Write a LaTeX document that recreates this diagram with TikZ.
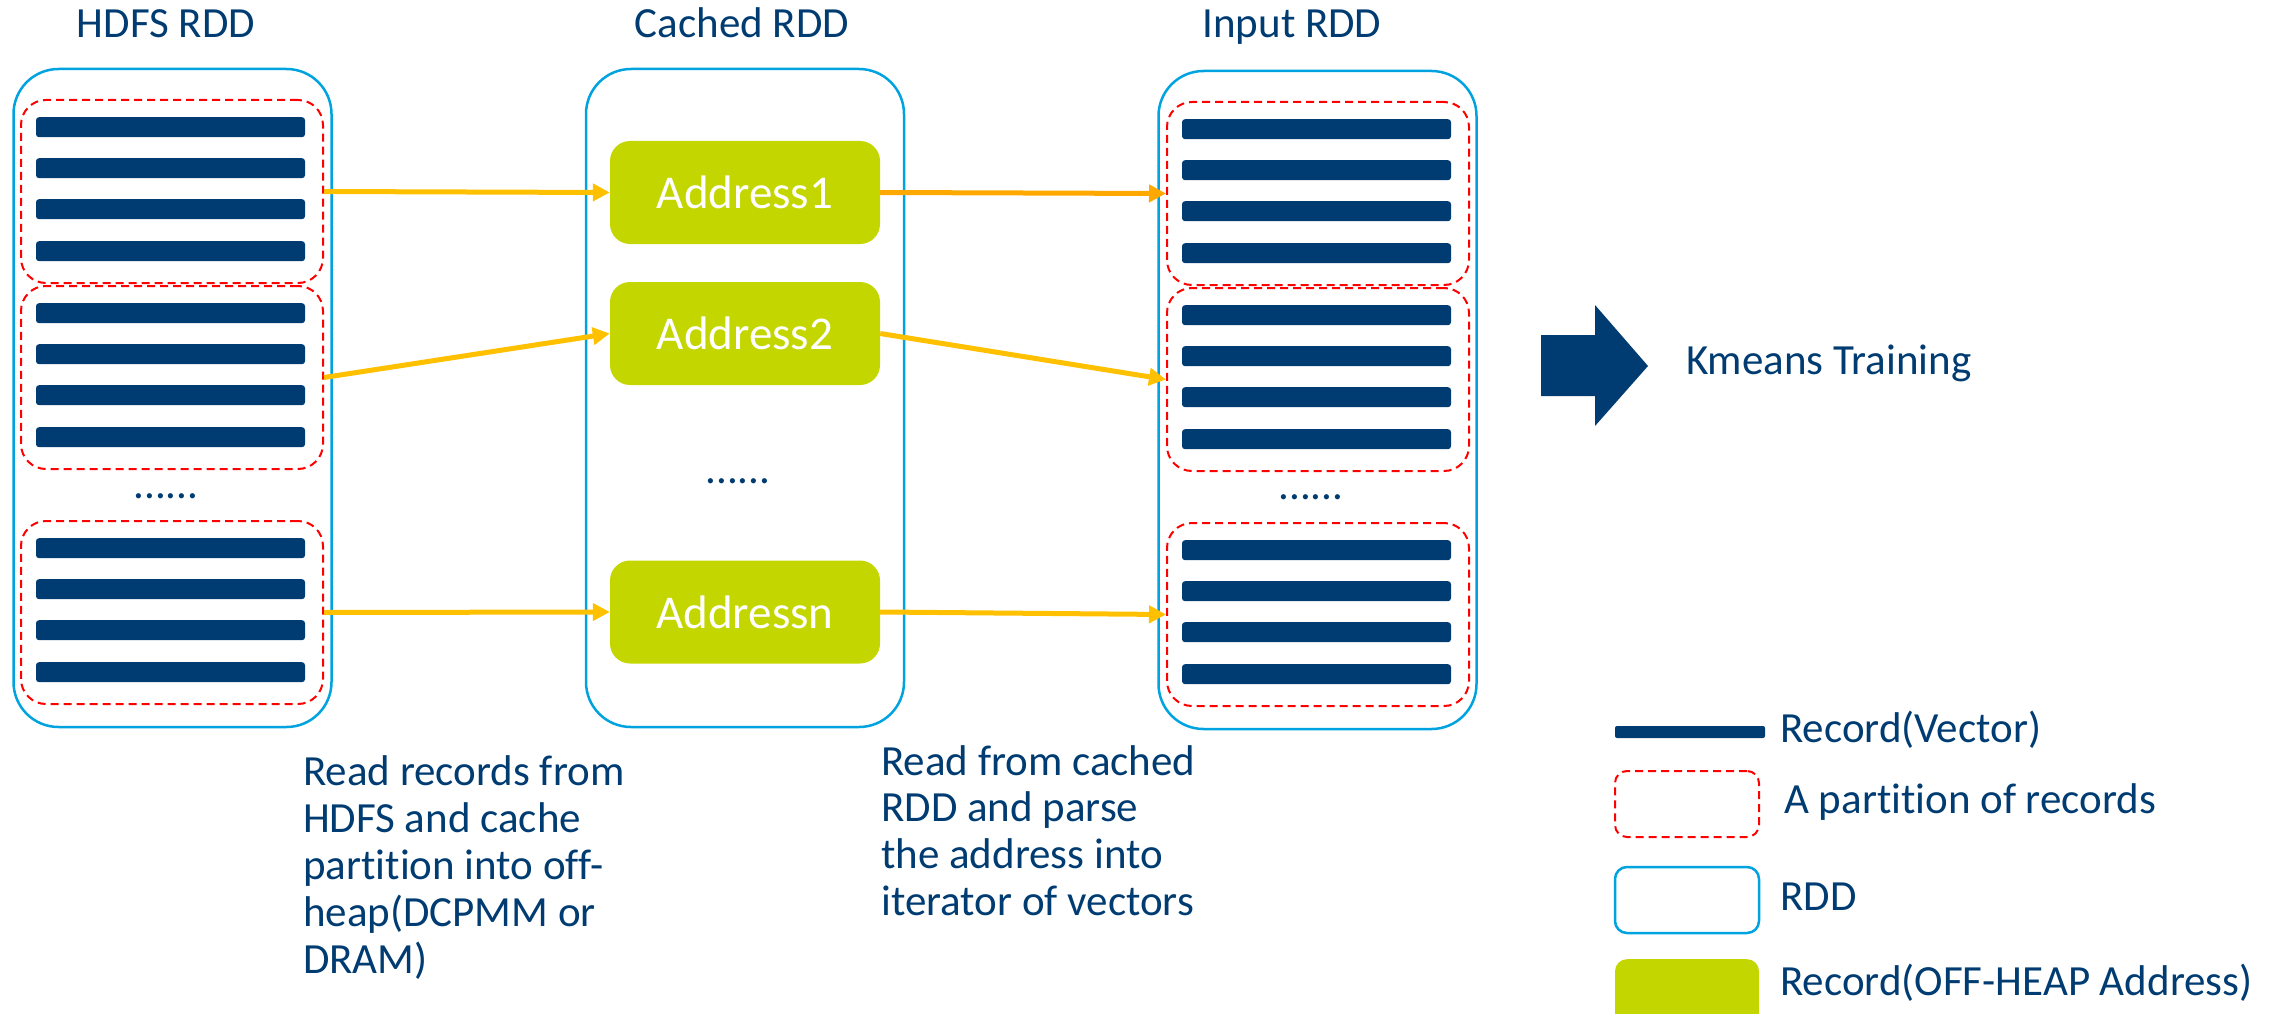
\documentclass[tikz,border=0pt]{standalone}
\usepackage{fontspec}
\setmainfont{Carlito}[Ligatures={NoCommon}]
\usetikzlibrary{arrows.meta}

\definecolor{navy}{RGB}{0,60,113}
\definecolor{rddblue}{RGB}{0,163,224}
\definecolor{addrgreen}{RGB}{196,214,0}
\definecolor{flowyellow}{RGB}{255,192,0}
\definecolor{floworange}{RGB}{255,168,0}
\definecolor{partred}{RGB}{255,0,0}

\tikzset{
  rddbox/.style={draw=rddblue, line width=2.5pt, rounded corners=45pt, inner sep=0pt,
                 minimum width=318pt, minimum height=658pt},
  partbox/.style={draw=partred, line width=2pt, dash pattern=on 8pt off 5pt,
                  rounded corners=25pt, inner sep=0pt, minimum width=302pt, minimum height=183pt},
  recbar/.style={fill=navy, rounded corners=3pt, inner sep=0pt,
                 minimum width=269pt, minimum height=20pt},
  addrbox/.style={fill=addrgreen, rounded corners=20pt, inner sep=0pt,
                  minimum width=270pt, minimum height=103pt, text=white,
                  font=\fontsize{47}{50}\selectfont},
  txt/.style={text=navy, font=\fontsize{43}{47}\selectfont, inner sep=0pt, anchor=base west},
  flow/.style={line width=5pt, draw=flowyellow, -{Triangle[length=17pt,width=17pt]}},
  legbox/.style={inner sep=0pt, rounded corners=12pt, minimum width=144pt, minimum height=66pt},
}

% a partition: dashed frame holding four records
\newcommand{\recpart}[3]{%
  \node[partbox, anchor=north] (#1) at (#2,#3) {};
  \foreach \k/\o in {1/18,2/59,3/100,4/142}
    \node[recbar, anchor=north] (#1-\k) at (#2-1.5,#3+\o) {};
}

\begin{document}
\begin{tikzpicture}[x=1pt,y=-1pt]
\useasboundingbox (0,0) rectangle (2287,1014);

% column titles
\node[txt, anchor=base] (tHdfs)   at (166,38)  {HDFS RDD};
\node[txt, anchor=base] (tCached) at (742,38)  {Cached RDD};
\node[txt, anchor=base] (tInput)  at (1292,38) {Input RDD};

% RDD frames
\node[rddbox] (hdfs)   at (172.5,398) {};
\node[rddbox] (cached) at (745,398)   {};
\node[rddbox] (input)  at (1317.5,400) {};

% HDFS partitions
\recpart{hp1}{172}{99}
\recpart{hp2}{172}{285}
\recpart{hp3}{172}{520}
\node[txt, anchor=base] (hdots) at (166,498) {......};

% input partitions
\recpart{ip1}{1318}{101}
\recpart{ip2}{1318}{287}
\recpart{ip3}{1318}{522}
\node[txt, anchor=base] (idots) at (1311,499) {......};

% cached off-heap addresses
\node[addrbox] (a1) at (745,192.5) {Address1};
\node[addrbox] (a2) at (745,333.5) {Address2};
\node[addrbox] (an) at (745,612)   {Addressn};
\node[txt, anchor=base] (cdots) at (738,483) {......};

% data flow
\draw[flow] (hp1.east) -- (a1.west);
\draw[flow] (hp2.east) -- (a2.west);
\draw[flow] (hp3.east) -- (an.west);
\draw[flow, draw=floworange] (a1.east) -- (ip1.west);
\draw[flow] (a2.east) -- (ip2.west);
\draw[flow] (an.east) -- (ip3.west);

% next stage
\fill[navy] (1541,335) -- (1595,335) -- (1595,305) -- (1648,366) -- (1595,426)
            -- (1595,396) -- (1541,396) -- cycle;
\node[txt] (km) at (1686,374) {Kmeans Training};

% step notes
\foreach \t [count=\i] in {Read records from, HDFS and cache, partition into off-,
                           heap(DCPMM or, DRAM)}
  \node[txt] (noteA\i) at (303,738+47*\i) {\t};
\foreach \t [count=\i] in {Read from cached, RDD and parse, the address into,
                           iterator of vectors}
  \node[txt] (noteB\i) at (881,728.3+46.7*\i) {\t};

% legend
\node[recbar, minimum width=150pt, minimum height=12pt, rounded corners=2pt] (lgRec) at (1690,732) {};
\node[txt] (lgRecT) at (1780,742) {Record(Vector)};
\node[legbox, draw=partred, line width=2pt, dash pattern=on 8pt off 5pt] (lgPart) at (1687,804) {};
\node[txt] (lgPartT) at (1784,813) {A partition of records};
\node[legbox, draw=rddblue, line width=2.5pt] (lgRdd) at (1687,900) {};
\node[txt] (lgRddT) at (1780,910) {RDD};
\node[legbox, fill=addrgreen, minimum height=90pt, anchor=north] (lgAddr) at (1687,959) {};
\node[txt] (lgAddrT) at (1780,995) {Record(OFF-HEAP Address)};
\end{tikzpicture}
\end{document}
